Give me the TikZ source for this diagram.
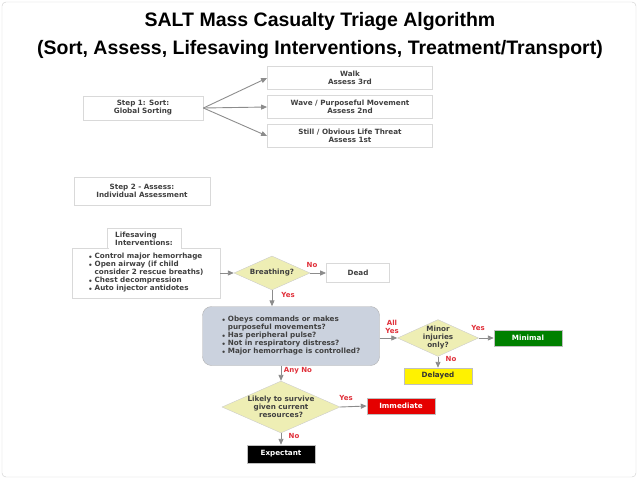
\documentclass[tikz,border=0pt]{standalone}
\usepackage{fontspec}
\setmainfont{DejaVu Sans}
\newfontfamily\titlefont{Liberation Sans}
\usetikzlibrary{shapes.geometric,arrows.meta}
\definecolor{dia}{HTML}{EEEEB4}
\definecolor{gbox}{HTML}{CBD2DE}
\definecolor{ln}{HTML}{8C8C8C}
\definecolor{lbl}{HTML}{E0303A}
\begin{document}
\begin{tikzpicture}[x=1pt,y=-1pt,
  box/.style={draw=black!15,line width=0.8pt,fill=white,minimum height=23pt,align=center,font=\fontsize{7.2}{8}\selectfont\bfseries,text=black!75,inner sep=2pt},
  dmd/.style={diamond,aspect=2.2,draw=black!20,fill=dia,align=center,font=\fontsize{7.2}{8}\selectfont\bfseries,text=black!75,inner sep=0pt},
  res/.style={draw=black!25,minimum width=68pt,minimum height=16pt,font=\fontsize{7.2}{8}\selectfont\bfseries,inner sep=1pt},
  arr/.style={ln,line width=0.9pt,-{Triangle[width=5pt,length=6pt]}},
  lab/.style={text=lbl,font=\fontsize{7}{8}\selectfont\bfseries,align=center,inner sep=0pt}]
\useasboundingbox (0,0) rectangle (638,479);
\draw[black!20,rounded corners=4pt] (2,2) rectangle (636,477);
\node[font=\titlefont\fontsize{19.5}{21}\selectfont\bfseries] (t1) at (320,22) {SALT Mass Casualty Triage Algorithm};
\node[font=\titlefont\fontsize{19.5}{21}\selectfont\bfseries] (t2) at (320,50) {(Sort, Assess, Lifesaving Interventions, Treatment/Transport)};
\node[box,minimum width=120pt,minimum height=24pt] (s1) at (143,108) {Step 1: Sort:\\Global Sorting};
\node[box,minimum width=165pt] (walk) at (350,78) {Walk\\Assess 3rd};
\node[box,minimum width=165pt] (wave) at (350,107) {Wave / Purposeful Movement\\Assess 2nd};
\node[box,minimum width=165pt] (still) at (350,136) {Still / Obvious Life Threat\\Assess 1st};
\draw[arr] (s1.east) -- (walk.west);
\draw[arr] (s1.east) -- (wave.west);
\draw[arr] (s1.east) -- (still.west);
\node[box,minimum width=136pt,minimum height=28pt] (s2) at (142,191) {Step 2 - Assess:\\Individual Assessment};
\node[box,minimum width=148pt,minimum height=50pt,align=left,inner sep=1pt] (ls) at (146,273) {%
{\tiny$\bullet$} Control major hemorrhage\\
{\tiny$\bullet$} Open airway (if child\\
\phantom{{\tiny$\bullet$}} consider 2 rescue breaths)\\
{\tiny$\bullet$} Chest decompression\\
{\tiny$\bullet$} Auto injector antidotes};
\node[box,minimum width=74pt,minimum height=20pt,align=left,anchor=south] (lt) at (144,249) {Lifesaving\\Interventions:};
\fill[white] (108.5,247) rectangle (180.5,250);
\node[dmd,minimum width=76pt,minimum height=34pt] (br) at (272,273) {Breathing?};
\node[box,minimum width=63pt,minimum height=19pt] (dead) at (358,273) {Dead};
\draw[arr] (ls.east) -- (br.west);
\draw[arr] (br.east) -- (dead.west);
\node[lab] at (312,265) {No};
\node[draw=black!30,fill=gbox,rounded corners=9pt,minimum width=177pt,minimum height=59pt,align=left,font=\fontsize{7.2}{8}\selectfont\bfseries,text=black!75,inner sep=1pt] (q) at (291,336) {%
{\tiny$\bullet$} Obeys commands or makes\\
\phantom{{\tiny$\bullet$}} purposeful movements?\\
{\tiny$\bullet$} Has peripheral pulse?\\
{\tiny$\bullet$} Not in respiratory distress?\\
{\tiny$\bullet$} Major hemorrhage is controlled?};
\draw[arr] (br.south) -- (br.south |- q.north);
\node[lab] at (288,295) {Yes};
\node[dmd,minimum width=74pt,minimum height=36pt] (mi) at (438,338) {Minor\\injuries\\only?};
\draw[arr] (q.east |- mi) -- (mi.west);
\node[lab] at (392,327) {All\\Yes};
\node[res,fill=green!50!black,text=white] (min) at (528,338) {Minimal};
\draw[arr] (mi.east) -- (min.west);
\node[lab] at (478,328) {Yes};
\node[res,fill=yellow,text=black!80] (del) at (438,376) {Delayed};
\draw[arr] (mi.south) -- (del.north);
\node[lab] at (451,359) {No};
\node[dmd,minimum width=118pt,minimum height=48pt] (lk) at (281,407) {Likely to survive\\given current\\resources?};
\draw[arr] (q.south -| lk) -- (lk.north);
\node[lab] at (298,371) {Any No};
\node[res,fill=red!90!black,text=white] (imm) at (401,406) {Immediate};
\draw[arr] (lk.east) -- (imm.west);
\node[lab] at (346,398) {Yes};
\node[res,fill=black,text=white,minimum height=18pt] (exp) at (281,454) {Expectant};
\draw[arr] (lk.south) -- (exp.north);
\node[lab] at (294,436) {No};
\end{tikzpicture}
\end{document}
